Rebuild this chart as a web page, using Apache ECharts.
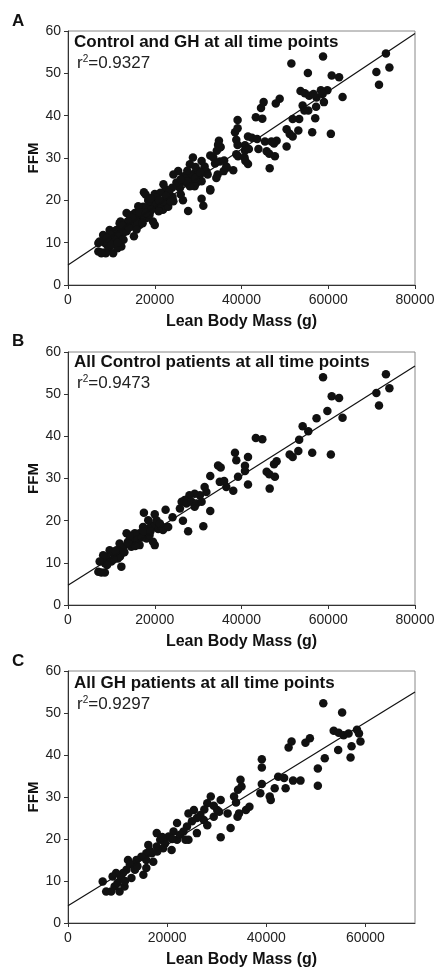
<!DOCTYPE html>
<html>
<head>
<meta charset="utf-8">
<style>
  html, body { margin: 0; padding: 0; background: #fff; }
  #main { width: 438px; height: 973px; }
</style>
<script src="https://cdn.jsdelivr.net/npm/echarts@6/dist/echarts.min.js"></script>
</head>
<body>
<div id="main"></div>
<script>
// Control patients (panel B)
const controlLbm = [
  58800, 73300, 74100, 71100, 71700, 60800, 62500, 59800, 63300, 57300,
  54100, 55400, 53300, 53100, 51100, 51800, 56300, 60600, 43300, 44800,
  48100, 47500, 45800, 46400, 47700, 46500, 41500, 40800, 40800, 41500,
  38500, 38800, 39200, 38100, 36500, 35000, 36000, 34600, 35200, 32800,
  32800, 31200, 27700, 26500, 31500, 31900, 30400, 29200, 28000, 26900,
  26200, 27300, 28500, 29600, 30800, 29200, 25800, 24100, 22500, 22700,
  21900, 20800, 20000, 17500, 20000, 19600, 20400, 19200, 18500, 17300,
  16500, 18100, 15800, 15000, 13500, 15400, 13800, 14600, 12700, 11900,
  11200, 10400, 12300, 9600, 8800, 8100, 8500, 7300, 10000, 11500,
  12300, 7000, 7700, 8500, 16500, 18100, 18800, 20400, 18500, 21200,
  23100, 12000, 13000, 14000, 16000, 17000, 17500, 19000, 10500, 9000,
  11000, 15500, 14200
];
const controlFfm = [
  54.0, 54.7, 51.4, 50.3, 47.3, 49.5, 49.1, 46.0, 44.4, 44.3,
  42.4, 41.2, 39.2, 36.5, 35.7, 35.1, 36.1, 35.7, 39.6, 39.3,
  34.1, 33.4, 31.6, 31.0, 30.4, 27.6, 35.1, 33.0, 31.8, 28.6,
  36.1, 34.3, 30.4, 27.1, 28.0, 29.2, 29.4, 33.1, 32.6, 30.6,
  22.3, 18.7, 17.5, 20.0, 28.0, 26.8, 26.0, 26.4, 26.0, 24.9,
  24.5, 24.1, 24.5, 24.1, 24.5, 23.3, 22.9, 20.8, 22.6, 18.5,
  17.8, 18.0, 21.5, 21.9, 14.2, 15.0, 18.5, 18.9, 18.1, 18.5,
  17.0, 17.0, 16.2, 15.4, 17.0, 17.0, 15.0, 13.8, 13.8, 14.6,
  13.0, 12.2, 12.2, 13.0, 11.4, 11.8, 9.9, 10.3, 10.3, 11.0,
  9.1, 7.9, 7.7, 7.7, 14.2, 15.8, 16.6, 20.1, 20.1, 19.3,
  18.5, 11.5, 12.5, 14.5, 15.5, 16.0, 17.5, 17.5, 10.8, 9.5,
  12.8, 14.0, 16.5
];

// GH patients (panel C)
const ghLbm = [
  51500, 55300, 53600, 54600, 55600, 56600, 58300, 58700, 59000, 57200,
  54500, 57000, 51800, 50400, 50400, 44500, 45100, 47900, 48800, 39100,
  39100, 39100, 38800, 40700, 40900, 41700, 42400, 43600, 43900, 45400,
  46900, 34800, 35000, 34300, 33500, 33900, 34500, 34200, 35900, 36600,
  32800, 30800, 32200, 30100, 30800, 28800, 28100, 29400, 26700, 27400,
  25400, 24300, 25000, 24000, 23300, 24300, 26000, 22000, 21300, 20300,
  22000, 19600, 20900, 18600, 17900, 17900, 16900, 16200, 15800, 15800,
  15200, 15800, 14800, 13800, 13100, 12100, 11800, 12800, 11100, 10700,
  9700, 9400, 10400, 8700, 7700, 7000, 9000, 11400, 13500, 17200,
  22600, 23700, 19200, 28100, 29400, 30500, 12500, 14000, 16500, 18000,
  19000, 21000, 10000, 11500, 26000, 27500
];
const ghFfm = [
  52.3, 50.1, 45.8, 45.3, 44.7, 45.1, 46.0, 45.1, 43.2, 42.1,
  41.2, 39.4, 39.2, 36.8, 32.7, 41.8, 43.2, 42.9, 44.0, 39.0,
  37.0, 33.1, 30.9, 30.1, 29.3, 32.1, 34.8, 34.5, 32.1, 33.9,
  33.9, 34.1, 32.5, 31.7, 30.1, 28.7, 26.1, 25.3, 26.9, 27.7,
  22.6, 20.4, 26.1, 26.9, 29.3, 30.1, 28.5, 27.9, 25.7, 24.5,
  26.9, 26.1, 24.2, 23.0, 21.8, 19.8, 21.4, 23.8, 21.8, 20.6,
  19.8, 19.0, 17.4, 19.8, 21.4, 18.2, 16.6, 18.6, 16.6, 15.0,
  11.5, 13.1, 15.8, 15.0, 13.9, 15.0, 12.7, 10.7, 11.9, 10.7,
  11.9, 8.7, 7.5, 7.5, 7.5, 9.9, 11.1, 8.7, 12.7, 14.6,
  21.0, 19.8, 17.8, 23.3, 25.3, 26.5, 14.0, 13.5, 17.2, 17.0,
  20.5, 20.0, 9.5, 10.0, 25.0, 27.0
];

// regression lines, end points in data units
const fitAll = [[0, 4.7], [80000, 59.4]];
const fitControl = [[0, 4.7], [80000, 56.7]];
const fitGh = [[0, 4.1], [70000, 55.0]];

const panelLetters = ["A", "B", "C"];
const headings = [
  "Control and GH at all time points",
  "All Control patients at all time points",
  "All GH patients at all time points"
];
const rSquared = ["0.9327", "0.9473", "0.9297"];
const xMax = [80000, 80000, 70000];

const pairs = (xs, ys) => xs.map((x, i) => [x, ys[i]]);
const controlPts = pairs(controlLbm, controlFfm);
const ghPts = pairs(ghLbm, ghFfm);
const allPts = controlPts.concat(ghPts);

const font = "Liberation Sans, Arial, sans-serif";
const gridTops = [31, 352, 671];
const gridHeights = [254, 253, 252];
const headTops = [34, 354, 675];
const letterTops = [13, 333, 653];

const chart = echarts.init(document.getElementById("main"));

const grids = gridTops.map((t, i) => ({
  left: 68, right: 23, top: t, height: gridHeights[i],
  show: true, borderColor: "#888", borderWidth: 1
}));

const xAxes = xMax.map((m, i) => ({
  type: "value", gridIndex: i, min: 0, max: m, interval: 20000,
  name: "Lean Body Mass (g)", nameLocation: "middle", nameGap: 29,
  nameMoveOverlap: false,
  nameTextStyle: { fontFamily: font, fontWeight: "bold", fontSize: 16, color: "#111" },
  axisLine: { show: true, lineStyle: { color: "#333" } },
  axisTick: { show: true, length: 4, lineStyle: { color: "#333" } },
  axisLabel: {
    fontFamily: font, fontSize: 14, color: "#222", margin: 8,
    showMaxLabel: m === 80000, formatter: (v) => String(v)
  },
  splitLine: { show: false }
}));

const yAxes = gridTops.map((t, i) => ({
  type: "value", gridIndex: i, min: 0, max: 60, interval: 10,
  name: "FFM", nameLocation: "middle", nameGap: 27,
  nameMoveOverlap: false,
  nameTextStyle: { fontFamily: font, fontWeight: "bold", fontSize: 15, color: "#111" },
  axisLine: { show: true, lineStyle: { color: "#333" } },
  axisTick: { show: true, length: 4, lineStyle: { color: "#333" } },
  axisLabel: { fontFamily: font, fontSize: 14, color: "#222", margin: 7 },
  splitLine: { show: false }
}));

const titles = [];
panelLetters.forEach((l, i) => {
  titles.push({
    text: l, left: 12, top: letterTops[i], padding: 0,
    textStyle: { fontFamily: font, fontWeight: "bold", fontSize: 17, color: "#111" }
  });
  titles.push({
    text: headings[i], left: 74, top: headTops[i], padding: 0,
    textStyle: { fontFamily: font, fontWeight: "bold", fontSize: 17, color: "#111" }
  });
  titles.push({
    text: "r{sup|2}=" + rSquared[i], left: 77, top: headTops[i] + 20, padding: 0,
    textStyle: {
      fontFamily: font, fontWeight: "normal", fontSize: 17, color: "#222",
      rich: { sup: { fontFamily: font, fontSize: 10, color: "#222", padding: [0, 0, 8, 0] } }
    }
  });
});

const dots = (data, i) => ({
  type: "scatter", xAxisIndex: i, yAxisIndex: i, data: data,
  symbol: "circle", symbolSize: 8.5,
  itemStyle: { color: "#111", opacity: 1 }, silent: true
});
const fitLine = (data, i) => ({
  type: "line", xAxisIndex: i, yAxisIndex: i, data: data,
  showSymbol: false, lineStyle: { color: "#111", width: 1.2 }, silent: true, z: 3
});

chart.setOption({
  animation: false,
  backgroundColor: "#fff",
  title: titles,
  grid: grids,
  xAxis: xAxes,
  yAxis: yAxes,
  series: [
    dots(allPts, 0), fitLine(fitAll, 0),
    dots(controlPts, 1), fitLine(fitControl, 1),
    dots(ghPts, 2), fitLine(fitGh, 2)
  ]
});
</script>
</body>
</html>
